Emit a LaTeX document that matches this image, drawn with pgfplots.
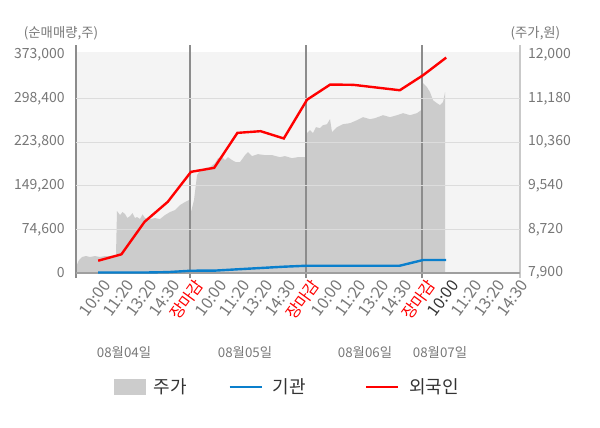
\documentclass[border=0pt]{standalone}
\usepackage{pgfplots}
\pgfplotsset{compat=1.18}
\usepackage{fontspec}
\setmainfont{Noto Sans CJK KR}
\definecolor{areagray}{HTML}{CCCCCC}
\definecolor{bggray}{HTML}{F4F4F4}
\definecolor{gridgray}{HTML}{DCDCDC}
\definecolor{sepgray}{HTML}{8C8C8C}
\definecolor{labgray}{HTML}{777777}
\definecolor{darktext}{HTML}{333333}
\definecolor{instblue}{HTML}{0A7FCC}
\definecolor{forred}{HTML}{FF0000}
\pgfplotsset{
  lineleg/.style={legend image code/.code={\draw[##1] (0pt,0pt) -- (24pt,0pt); \path (31.5pt,0pt);}},
  arealeg/.style={legend image code/.code={\fill[areagray] (0pt,-5.6pt) rectangle (23.25pt,5.6pt); \path (29.25pt,0pt);}},
}
\begin{document}
\begin{tikzpicture}
\path (0,0) rectangle (450pt,321pt);
% ---------- price (area), right axis ----------
\begin{axis}[
  at={(57pt,116.25pt)}, anchor=south west,
  scale only axis, width=333pt, height=165.75pt,
  xmin=0.043, xmax=19.18, ymin=7900, ymax=12051,
  clip=false,
  scaled y ticks=false,
  axis background/.style={fill=bggray},
  axis line style={draw=none},
  major tick length=0pt,
  /pgf/number format/assume math mode=true,
  xtick={1,...,19},
  xticklabels={10:00,11:20,13:20,14:30,\textcolor{forred}{장마감},
               10:00,11:20,13:20,14:30,\textcolor{forred}{장마감},
               10:00,11:20,13:20,14:30,\textcolor{forred}{장마감},
               \textcolor{darktext}{10:00},11:20,13:20,14:30},
  x tick label style={font=\fontsize{12}{14}\selectfont, text=labgray, rotate=54, anchor=east, xshift=2pt, yshift=-9pt},
  ytick={7900,8720,9540,10360,11180,12000},
  yticklabels={{7,900},{8,720},{9,540},{10,360},{11,180},{12,000}},
  yticklabel pos=right,
  y tick label style={font=\fontsize{10.5}{12}\selectfont, text=labgray, xshift=2.5pt},
]
\addplot[fill=areagray, draw=none] coordinates {
(0.043,7900) (0.043,8013) (0.172,8144) (0.302,8200) (0.474,8219) (0.647,8200)
(0.862,8219) (1.078,8200) (1.293,8219) (1.509,8219) (1.767,8238)
(1.810,9063) (1.940,8988) (2.05,9044) (2.155,9007) (2.26,8932) (2.371,8969)
(2.48,9025) (2.586,8932) (2.672,8951) (2.802,8913) (2.91,9000) (3.017,8932)
(3.233,8913) (3.448,8932) (3.664,8913) (3.879,8988) (4.095,9044) (4.310,9082)
(4.526,9176) (4.741,9232) (4.914,9269) (5.0,9044) (5.129,9269) (5.259,9738)
(5.345,9795) (5.603,9870) (5.819,9889) (6.034,9964) (6.164,10057) (6.336,10076)
(6.466,10020) (6.595,10076) (6.767,10020) (6.940,9982) (7.112,9982) (7.328,10114)
(7.457,10170) (7.629,10095) (7.888,10132) (8.190,10114) (8.491,10114) (8.836,10076)
(9.052,10095) (9.353,10057) (9.612,10076) (9.871,10076) (9.957,10076)
(10.0,10526) (10.129,10583) (10.259,10526) (10.388,10639) (10.560,10620)
(10.690,10676) (10.862,10695) (10.991,10789) (11.078,10545) (11.293,10639)
(11.552,10695) (11.853,10714) (12.155,10770) (12.414,10827) (12.716,10789)
(12.931,10808) (13.276,10864) (13.578,10827) (13.879,10864) (14.138,10902)
(14.440,10864) (14.741,10902) (14.914,10958) (14.957,10958)
(15.0,11464) (15.172,11389) (15.302,11296) (15.431,11145) (15.603,11089)
(15.733,11052) (15.862,11108) (15.948,11296) (15.948,7900)
} -- cycle;
\draw[sepgray, line width=0.8pt] (axis cs:0.043,7806) -- (axis cs:0.043,12182);
\draw[sepgray, line width=0.8pt] (axis cs:4.957,7806) -- (axis cs:4.957,12182);
\draw[sepgray, line width=0.8pt] (axis cs:9.957,7806) -- (axis cs:9.957,12182);
\draw[sepgray, line width=0.8pt] (axis cs:14.957,7806) -- (axis cs:14.957,12182);
\draw[gridgray!80!gray, line width=0.8pt] (axis cs:19.18,7806) -- (axis cs:19.18,12182);
\end{axis}
% ---------- net buying (lines), left axis ----------
\begin{axis}[
  at={(57pt,116.25pt)}, anchor=south west,
  scale only axis, width=333pt, height=165.75pt,
  xmin=0.043, xmax=19.18, ymin=0, ymax=377600,
  clip=false,
  scaled y ticks=false,
  axis line style={draw=none},
  major tick length=0pt,
  /pgf/number format/assume math mode=true,
  xtick=\empty,
  ytick={0,74600,149200,223800,298400,373000},
  yticklabels={{0},{74,600},{149,200},{223,800},{298,400},{373,000}},
  yticklabel pos=left,
  y tick label style={font=\fontsize{10.5}{12}\selectfont, text=labgray, xshift=-5pt},
  extra y ticks={74600,149200,223800,298400},
  extra y tick labels={},
  extra y tick style={grid=major, major grid style={gridgray, line width=0.75pt}},
  legend columns=3,
  legend cell align=left,
  legend style={draw=none, fill=none, at={(axis description cs:0.0856,-0.5158)}, anchor=west,
    inner sep=0pt, column sep=0pt, font=\fontsize{13.5}{16}\selectfont, text=darktext,
    nodes={inner sep=0pt}},
]
\draw[gray!75, line width=0.9pt] (axis cs:0.043,0) -- (axis cs:19.18,0);
\addlegendimage{arealeg}
\addlegendentry[text width=56pt]{주가}
\addplot[instblue, line width=1.8pt, lineleg]
coordinates {
(1,800) (2,800) (3,800) (4,1500) (5,3900) (6,4000) (7,6300) (8,8530)
(9,10750) (10,12450) (11,12450) (12,12450) (13,12450) (14,12450) (15,22180) (16,22180)
};
\addlegendentry[text width=69pt]{기관}
\addplot[forred, line width=1.8pt, lineleg]
coordinates {
(1,20990) (2,31900) (3,87530) (4,121660) (5,172850) (6,179670) (7,239400) (8,242300)
(9,229840) (10,296050) (11,321980) (12,321500) (13,316860) (14,312250) (15,337850) (16,368050)
};
\addlegendentry{외국인}
\end{axis}
% ---------- titles and date labels ----------
\node[font=\fontsize{10}{12}\selectfont, text=labgray] at (45.75pt,296.25pt) {(순매매량,주)};
\node[font=\fontsize{10}{12}\selectfont, text=labgray] at (401.6pt,296.25pt) {(주가,원)};
\node[font=\fontsize{10}{12}\selectfont, text=labgray] at (93pt,57pt) {08월04일};
\node[font=\fontsize{10}{12}\selectfont, text=labgray] at (183.75pt,57pt) {08월05일};
\node[font=\fontsize{10}{12}\selectfont, text=labgray] at (273.75pt,57pt) {08월06일};
\node[font=\fontsize{10}{12}\selectfont, text=labgray] at (330pt,57pt) {08월07일};
\end{tikzpicture}
\end{document}
